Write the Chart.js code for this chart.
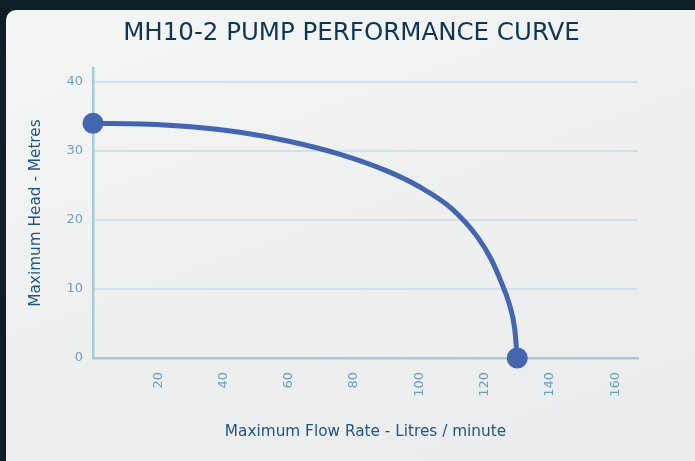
<!DOCTYPE html>
<html>
<head>
<meta charset="utf-8">
<script src="https://cdn.jsdelivr.net/npm/chart.js@4/dist/chart.umd.min.js"></script>
<style>
  html, body { margin: 0; padding: 0; width: 695px; height: 461px; overflow: hidden; background: #0e1e29; }
  #card { position: absolute; left: 6px; top: 10px; width: 700px; height: 470px; border-radius: 10px;
          background: linear-gradient(160deg, #f4f5f5 0%, #eeefef 50%, #eaebec 100%); }
  #wrap { position: absolute; left: 0; top: 0; width: 695px; height: 461px; }
</style>
</head>
<body>
<div id="card"></div>
<div id="wrap"><canvas id="c" width="695" height="461"></canvas></div>
<script>
const chartTitle = "MH10-2 PUMP PERFORMANCE CURVE";
const xTitle = "Maximum Flow Rate - Litres / minute";
const yTitle = "Maximum Head - Metres";
const flowRate = [0, 15, 30, 45, 60, 75, 90, 100, 110, 118, 122, 125, 127.5, 129.2, 130];
const headMetres = [34, 33.9, 33.5, 32.7, 31.4, 29.6, 27.1, 24.8, 21.6, 17.4, 14.3, 11.1, 7.9, 4.3, 0];
const xTickValues = [20, 40, 60, 80, 100, 120, 140, 160];
const yTickValues = [0, 10, 20, 30, 40];

const FONT = "'DejaVu Sans', sans-serif";
const points = flowRate.map((x, i) => ({ x: x, y: headMetres[i] }));
const lastIdx = points.length - 1;
const PAD_LEFT = 65;

new Chart(document.getElementById('c'), {
  type: 'line',
  data: {
    datasets: [{
      data: points,
      borderColor: '#4465b0',
      backgroundColor: '#4465b0',
      borderWidth: 5,
      cubicInterpolationMode: 'monotone',
      pointRadius: ctx => (ctx.dataIndex === 0 || ctx.dataIndex === lastIdx) ? 10.5 : 0,
      pointHoverRadius: ctx => (ctx.dataIndex === 0 || ctx.dataIndex === lastIdx) ? 10.5 : 0,
      pointBorderWidth: 0,
      pointBackgroundColor: '#4465b0',
      clip: false
    }]
  },
  options: {
    responsive: false,
    animation: false,
    layout: { padding: { left: PAD_LEFT, right: 57, top: 0, bottom: 0 } },
    plugins: {
      legend: { display: false },
      tooltip: { enabled: false },
      title: {
        display: true,
        text: chartTitle,
        color: '#0e3652',
        font: { family: FONT, size: 24.5, weight: 'normal', lineHeight: 1.2 },
        padding: { top: 19.1, bottom: 19.5 }
      }
    },
    scales: {
      x: {
        type: 'linear',
        min: 0,
        max: 167,
        afterBuildTicks: s => { s.ticks = xTickValues.map(v => ({ value: v })); },
        afterFit: s => { s.height = 103; },
        grid: { display: false, drawTicks: false },
        border: { display: true, color: '#a3cbd9', width: 2.5 },
        ticks: {
          color: '#6f9fbe',
          font: { family: FONT, size: 13 },
          minRotation: 90, maxRotation: 90,
          padding: 14,
          autoSkip: false
        },
        title: {
          display: true,
          text: xTitle,
          color: '#1f5482',
          font: { family: FONT, size: 15.3, lineHeight: 1.2 },
          padding: { top: 0, bottom: 19.8 }
        }
      },
      y: {
        type: 'linear',
        min: 0,
        max: 42,
        afterBuildTicks: s => { s.ticks = yTickValues.map(v => ({ value: v })); },
        afterFit: s => { s.width = 93 - PAD_LEFT; },
        grid: { display: true, drawTicks: false, color: '#cfe1e9', lineWidth: 2 },
        border: { display: true, color: '#a3cbd9', width: 2.5 },
        ticks: {
          color: '#6f9fbe',
          font: { family: FONT, size: 13 },
          padding: 10
        },
        title: {
          display: true,
          text: yTitle,
          color: '#1f5482',
          font: { family: FONT, size: 15.3, lineHeight: 1.2 },
          padding: { top: 36 - PAD_LEFT - 9.18, bottom: 0 }
        }
      }
    }
  }
});
</script>
</body>
</html>
